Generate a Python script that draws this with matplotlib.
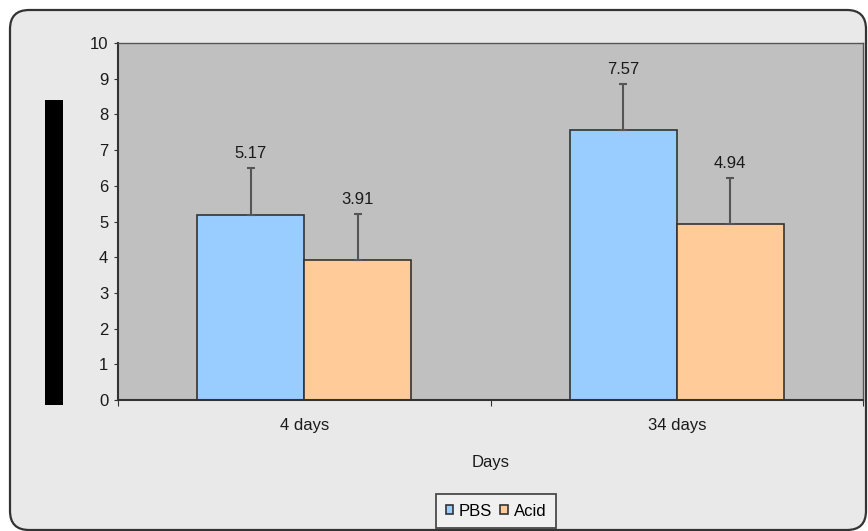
import matplotlib
matplotlib.use("Agg")
import matplotlib.pyplot as plt
from matplotlib.patches import FancyBboxPatch, Rectangle
import numpy as np

plt.rcParams["font.family"] = ["Liberation Sans", "DejaVu Sans"]

categories = ["4 days", "34 days"]
series_names = ["PBS", "Acid"]
pbs_values = [5.17, 7.57]
acid_values = [3.91, 4.94]
pbs_err = [1.33, 1.28]
acid_err = [1.30, 1.28]
value_labels_pbs = ["5.17", "7.57"]
value_labels_acid = ["3.91", "4.94"]
y_ticks = [0, 1, 2, 3, 4, 5, 6, 7, 8, 9, 10]

W, H = 868, 531
BG = "#e9e9e9"
FS = 12
TXT = "#1a1a1a"
fig = plt.figure(figsize=(W / 100, H / 100), dpi=100)
fig.patch.set_facecolor("white")

# outer rounded frame with light background
frame = FancyBboxPatch((10 / W, 1 - 530 / H), (866 - 10) / W, (530 - 10) / H,
                       boxstyle="round,pad=0,rounding_size=0.022",
                       transform=fig.transFigure, facecolor=BG,
                       edgecolor="#333333", linewidth=1.6, zorder=0,
                       mutation_aspect=W / H)
fig.patches.append(frame)

# black bar on the left
fig.patches.append(Rectangle((45 / W, 1 - 405 / H), 18 / W, 305 / H,
                             transform=fig.transFigure, facecolor="black",
                             edgecolor="none", zorder=1))

ax = fig.add_axes([118 / W, 1 - 400 / H, (863 - 118) / W, (400 - 43) / H])
ax.set_zorder(3)
ax.set_facecolor("#c0c0c0")

x = np.arange(len(categories))
bw = 0.287
pbs_x = x - bw / 2
acid_x = x + bw / 2
ax.bar(pbs_x, pbs_values, bw, color="#99ccff", edgecolor="#333333", linewidth=1.2,
       label=series_names[0], zorder=2)
ax.bar(acid_x, acid_values, bw, color="#ffcc99", edgecolor="#333333", linewidth=1.2,
       label=series_names[1], zorder=2)
ekw = dict(fmt="none", ecolor="#555555", elinewidth=1.5, capsize=3, capthick=1.5, zorder=3)
ax.errorbar(pbs_x, pbs_values, yerr=[[0, 0], pbs_err], **ekw)
ax.errorbar(acid_x, acid_values, yerr=[[0, 0], acid_err], **ekw)

for xs, vals, errs, labs in [(pbs_x, pbs_values, pbs_err, value_labels_pbs),
                             (acid_x, acid_values, acid_err, value_labels_acid)]:
    for xi, v, e, lab in zip(xs, vals, errs, labs):
        ax.annotate(lab, (xi, v + e), xytext=(0, 5), textcoords="offset points",
                    ha="center", va="bottom", fontsize=FS, color=TXT)

ax.set_xlim(-0.5, 1.5)
ax.set_ylim(0, 10)
ax.set_yticks(y_ticks)
ax.set_yticklabels([str(t) for t in y_ticks], fontsize=FS, color=TXT)
ax.set_xticks([-0.5, 0.5, 1.5])
ax.set_xticklabels([])
ax.set_xticks(x, minor=True)
ax.set_xticklabels(categories, minor=True, fontsize=FS, color=TXT)
ax.tick_params(axis="x", which="minor", length=0, pad=13)
ax.tick_params(axis="x", which="major", length=4, color="#333333")
ax.tick_params(axis="y", length=3, color="#333333", pad=4)
for s in ax.spines.values():
    s.set_color("#555555")
    s.set_linewidth(1.0)
ax.spines["left"].set_color("#333333")
ax.spines["bottom"].set_color("#333333")
ax.spines["left"].set_linewidth(1.5)
ax.spines["bottom"].set_linewidth(1.5)

ax.set_xlabel("Days", fontsize=FS, color=TXT, labelpad=16)

leg = ax.legend(loc="upper center", bbox_to_anchor=(0.5074, -0.2633), ncol=2,
                fontsize=FS, frameon=True, fancybox=False, edgecolor="#222222",
                handlelength=0.45, handleheight=0.45, handletextpad=0.35,
                columnspacing=0.5, borderpad=0.58, borderaxespad=0)
leg.get_frame().set_linewidth(1.3)
leg.get_frame().set_facecolor("#f2f2f2")

fig.savefig("out.png", dpi=100)
